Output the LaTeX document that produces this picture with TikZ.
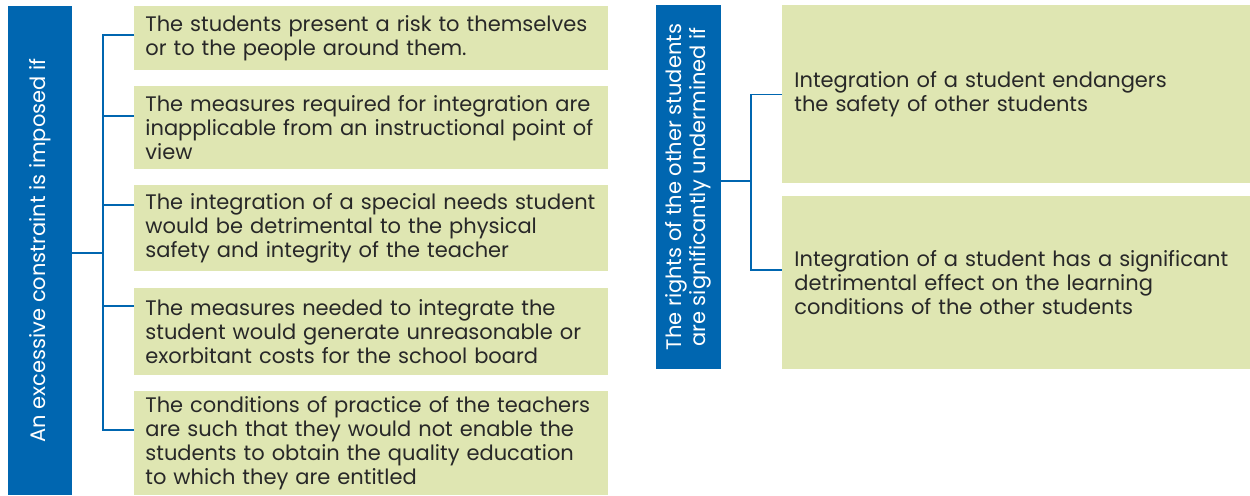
\documentclass[tikz,border=0pt]{standalone}
\usepackage{fontspec}
\setmainfont{Poppins}
\usetikzlibrary{calc}
\definecolor{barblue}{RGB}{0,102,176}
\definecolor{boxgreen}{RGB}{223,230,178}
\definecolor{boxtext}{RGB}{40,40,40}

\begin{document}
\begin{tikzpicture}[x=0.5pt, y=-0.5pt,
    every node/.style={font=\fontsize{10.5}{12}\selectfont},
    bar/.style={fill=barblue, text=white, rotate=90, align=center, inner sep=0pt},
    cond/.style={fill=boxgreen, text=boxtext, anchor=north west, align=left, inner ysep=0pt},
    leftcond/.style={cond, text width=226pt, inner xsep=5.5pt},
    rightcond/.style={cond, text width=222pt, inner xsep=6pt},
    link/.style={draw=barblue, line width=0.7pt}]
  \useasboundingbox (0,0) rectangle (1250,495);

  % left group
  \node[bar, minimum width=244.5pt, minimum height=32pt] (bar1) at (40,250.5)
    {An excessive constraint is imposed if};
  \node[leftcond, minimum height=32pt] (b1) at (134,6)
    {The students present a risk to themselves\\or to the people around them.};
  \node[leftcond, minimum height=41.5pt] (b2) at (134,86)
    {The measures required for integration are\\inapplicable from an instructional point of\\view};
  \node[leftcond, minimum height=43pt] (b3) at (134,185)
    {The integration of a special needs student\\would be detrimental to the physical\\safety and integrity of the teacher};
  \node[leftcond, minimum height=43.5pt] (b4) at (134,288)
    {The measures needed to integrate the\\student would generate unreasonable or\\exorbitant costs for the school board};
  \node[leftcond, minimum height=52pt] (b5) at (134,391)
    {The conditions of practice of the teachers\\are such that they would not enable the\\students to obtain the quality education\\to which they are entitled};

  \coordinate (jL) at (103,253);
  \coordinate (t1) at ($(b1.north west)+(0,29)$);
  \coordinate (t5) at ($(b5.north west)+(0,39)$);
  \draw[link] (bar1.south |- jL) -- (jL);
  \draw[link] (t1) -- (t1 -| jL) -- (t5 -| jL) -- (t5);
  \foreach \b/\dy in {b2/30,b3/20,b4/18}
    \draw[link] ($(\b.north west)+(0,\dy)$) -- ++(-31,0);

  % right group
  \node[bar, minimum width=182pt, minimum height=32.5pt] (bar2) at (688.5,187)
    {The rights of the other students\\are significantly undermined if};
  \node[rightcond, minimum height=89pt] (r1) at (782,5)
    {Integration of a student endangers\\the safety of other students};
  \node[rightcond, minimum height=86.5pt] (r2) at (782,196)
    {Integration of a student has a significant\\detrimental effect on the learning\\conditions of the other students};

  \coordinate (jR) at (751,181);
  \coordinate (t6) at ($(r2.north west)+(0,74)$);
  \draw[link] (bar2.south |- jR) -- (jR);
  \draw[link] (r1.west) -- (r1.west -| jR) -- (t6 -| jR) -- (t6);
\end{tikzpicture}
\end{document}
